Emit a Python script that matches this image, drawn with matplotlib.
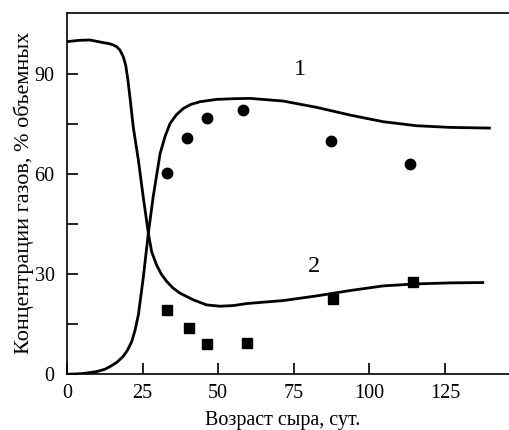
import matplotlib

matplotlib.use("Agg")
import matplotlib.pyplot as plt

# curve 1 (rising gas) and curve 2 (falling gas)
CURVE1_X = [0, 5, 9.8, 12.5, 14.2, 16.5, 18.5, 20, 21.4, 22.5, 23.6, 25.2, 26.9,
            28.5, 30.8, 32.5, 34.1, 36.2, 38.5, 41, 44, 49.5, 55, 60.5, 71.5,
            82.6, 93.6, 104.6, 115.6, 126.7, 139.7]
CURVE1_Y = [0, 0.2, 0.8, 1.5, 2.3, 3.6, 5.3, 7.2, 9.8, 13.2, 17.8, 28.8, 42.3,
            53.2, 66.2, 71.5, 75.2, 77.8, 79.7, 80.9, 81.7, 82.4, 82.6, 82.7, 81.9,
            80.0, 77.7, 75.7, 74.5, 74.0, 73.8]

CURVE2_X = [0, 4, 7.6, 12, 14, 15.3, 16.4, 17.5, 18.6, 19.4, 20.1, 20.8, 21.9,
            23.6, 25.2, 26.9, 28.0, 29.6, 31.2, 33.0, 35, 37.4, 41.8, 46.2, 50.6,
            55, 59.4, 71.5, 82.6, 93.6, 104.6, 115.6, 126.7, 137.5]
CURVE2_Y = [99.7, 100.1, 100.2, 99.4, 99.1, 98.7, 98.2, 97.2, 95.2, 92.7, 88.5,
            83.2, 74.2, 64.2, 53.2, 42.3, 36.7, 32.8, 30.0, 27.8, 25.9, 24.3, 22.3,
            20.8, 20.4, 20.6, 21.2, 22.1, 23.5, 25.1, 26.5, 27.1, 27.4, 27.5]

# measured points
CIRCLE_X = [33.2, 39.8, 46.2, 58.3, 87.3, 113.4]
CIRCLE_Y = [60.2, 70.7, 76.9, 79.2, 70.0, 63.0]
SQUARE_X = [33.0, 40.2, 46.4, 59.6, 88.0, 114.3]
SQUARE_Y = [19.3, 14.0, 9.1, 9.5, 22.6, 27.8]

X_TICKS = [0, 25, 50, 75, 100, 125]
Y_TICKS = [0, 30, 60, 90]
Y_MINOR = [15, 45, 75]

plt.rcParams.update({
    "font.family": ["Liberation Serif", "DejaVu Serif"],
    "font.size": 14.5,
})

fig = plt.figure(figsize=(5.1, 4.3), dpi=100)
ax = fig.add_axes([67 / 510, 1 - 374.3 / 430, 443 / 510, 361 / 430])

ax.plot(CURVE1_X, CURVE1_Y, color="black", lw=2, solid_joinstyle="round")
ax.plot(CURVE2_X, CURVE2_Y, color="black", lw=2, solid_joinstyle="round")
ax.plot(CIRCLE_X, CIRCLE_Y, "o", color="black", ms=7.5)
ax.plot(SQUARE_X, SQUARE_Y, "s", color="black", ms=7.5)

ax.text(77, 91.5, "1", ha="center", va="center", fontsize=17.5)
ax.text(81.8, 32.2, "2", ha="center", va="center", fontsize=17.5)

ax.set_xlim(0, 146.5)
ax.set_ylim(0, 108.2)
ax.set_xticks(X_TICKS)
ax.set_yticks(Y_TICKS)
ax.set_yticks(Y_MINOR, minor=True)
ax.tick_params(axis="both", which="both", direction="in", length=8, width=1.2)
ax.tick_params(axis="x", pad=7)
ax.tick_params(axis="y", pad=9)
ax.spines["right"].set_visible(False)
for side in ["left", "bottom", "top"]:
    ax.spines[side].set_linewidth(1.2)

ax.set_xlabel("Возраст сыра, сут.")
ax.set_ylabel("Концентрации газов, % объемных", fontsize=16)
ax.xaxis.set_label_coords((283 - 67) / 443, -0.1017)
ax.yaxis.set_label_coords(-0.075, 0.502)

fig.savefig("out.png", dpi=100, facecolor="white")
